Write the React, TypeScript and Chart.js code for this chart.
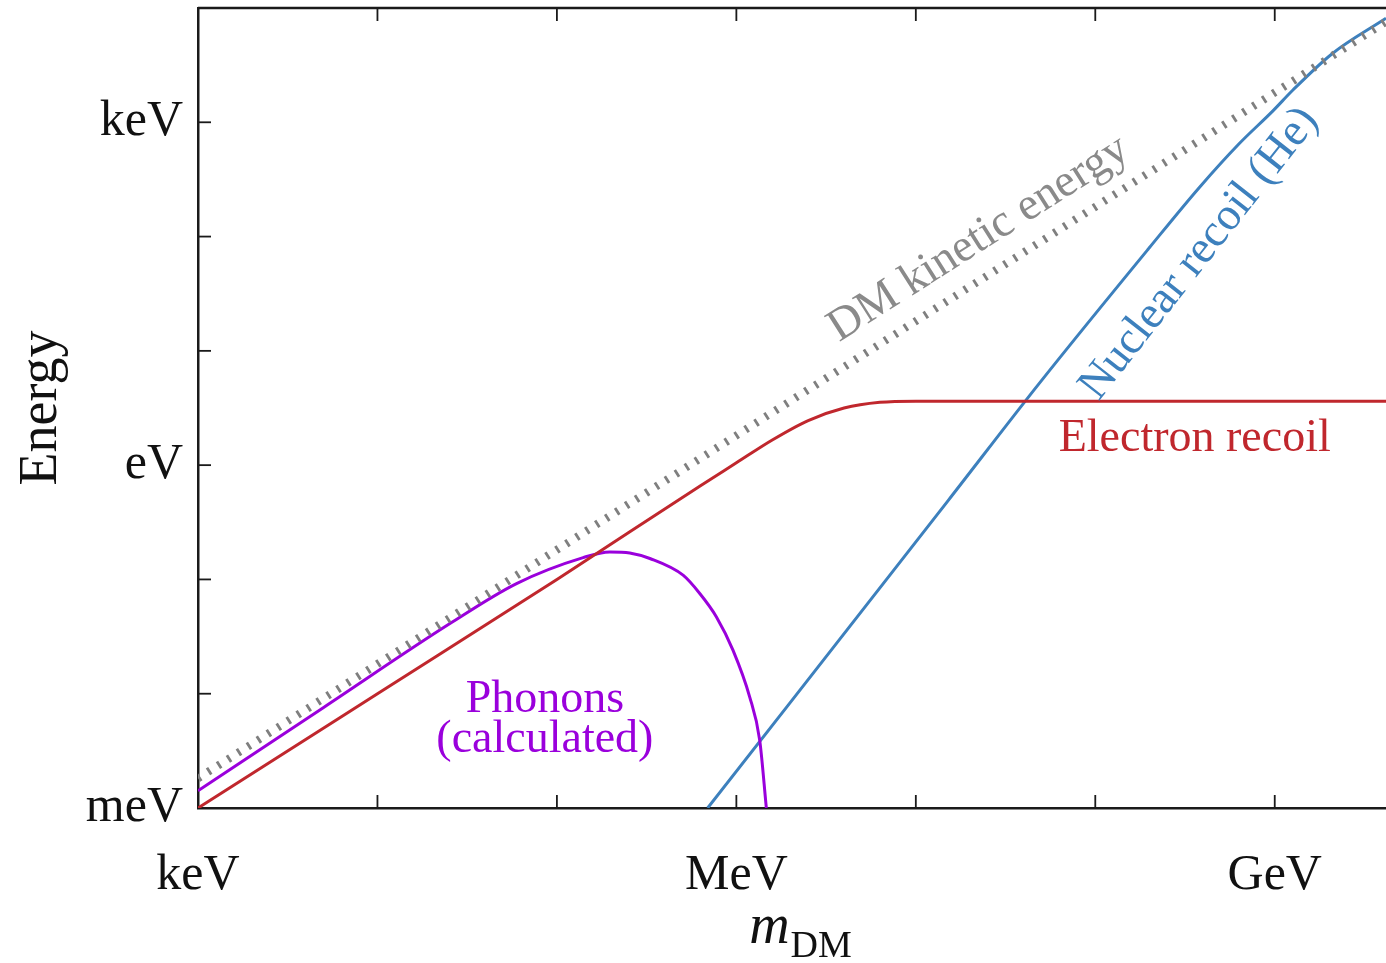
import React, { useEffect, useRef } from 'react';
import { Chart, registerables } from 'chart.js';

Chart.register(...registerables);

// Axes are in decades: x = log10(m_DM / keV), y = log10(E / meV)
const X_MIN = 0;
const X_MAX = 6.62;
const Y_MIN = 0;
const Y_MAX = 7;

const xTickValues = [0, 1, 2, 3, 4, 5, 6];
const xTickLabels = ['keV', '', '', 'MeV', '', '', 'GeV'];
const yTickValues = [0, 1, 2, 3, 4, 5, 6];
const yTickLabels = ['meV', '', '', 'eV', '', '', 'keV'];

const dmKineticX = [0, 6.62];
const dmKineticY = [0.26, 6.88];

const electronX = [0, 1, 2, 2.8, 3.0, 3.2, 3.4, 3.6, 3.8, 4.0, 6.62];
const electronY = [0, 1.0, 2.0, 2.82, 3.02, 3.22, 3.39, 3.5, 3.55, 3.56, 3.56];

const phononX = [0, 0.7, 1.404, 1.775, 2.146, 2.295, 2.406, 2.518, 2.703, 2.796, 2.889, 2.981, 3.074, 3.13, 3.167];
const phononY = [0.15, 0.88, 1.614, 1.964, 2.191, 2.241, 2.232, 2.183, 2.037, 1.877, 1.672, 1.381, 0.973, 0.594, 0];

const nuclearX = [2.84, 4.18, 4.69, 5.3, 5.58, 5.8, 5.99, 6.1, 6.32, 6.62];
const nuclearY = [0, 2.69, 3.72, 4.9, 5.43, 5.81, 6.1, 6.28, 6.6, 6.91];

const COLOR_DM = '#7f7f7f';
const COLOR_ELECTRON = '#c0272d';
const COLOR_PHONON = '#9a00dc';
const COLOR_NUCLEAR = '#3d80bd';

const FONT = '"Liberation Serif", "DejaVu Serif", serif';

// Label anchors in data units (x decades, y decades); slope sets the rotation
const labelTexts = ['DM kinetic energy', 'Nuclear recoil (He)', 'Electron recoil', 'Phonons', '(calculated)'];
const labelX = [4.35, 5.58, 5.554, 1.933, 1.933];
const labelY = [4.98, 4.85, 3.12, 0.84, 0.49];
const labelSlope = [1, 2, 0, 0, 0];
const labelBaseline = ['middle', 'middle', 'alphabetic', 'alphabetic', 'alphabetic'];
const labelColor = ['#8a8a8a', COLOR_NUCLEAR, COLOR_ELECTRON, COLOR_PHONON, COLOR_PHONON];

const pts = (xs: number[], ys: number[]) => xs.map((x, i) => ({ x, y: ys[i] }));

const decorPlugin = {
  id: 'decor',
  afterDatasetsDraw(chart: any) {
    const { ctx, chartArea } = chart;
    const xs = chart.scales.x;
    const ys = chart.scales.y;
    ctx.save();
    // top frame line
    ctx.strokeStyle = '#1a1a1a';
    ctx.lineWidth = 2.5;
    ctx.beginPath();
    ctx.moveTo(chartArea.left, chartArea.top);
    ctx.lineTo(chartArea.right, chartArea.top);
    ctx.stroke();
    // inward ticks
    const tl = 13;
    ctx.lineWidth = 1.8;
    for (const v of xTickValues) {
      if (v === X_MIN) continue;
      const px = xs.getPixelForValue(v);
      ctx.beginPath();
      ctx.moveTo(px, chartArea.bottom);
      ctx.lineTo(px, chartArea.bottom - tl);
      ctx.moveTo(px, chartArea.top);
      ctx.lineTo(px, chartArea.top + tl);
      ctx.stroke();
    }
    for (const v of yTickValues) {
      if (v === Y_MIN) continue;
      const py = ys.getPixelForValue(v);
      ctx.beginPath();
      ctx.moveTo(chartArea.left, py);
      ctx.lineTo(chartArea.left + tl, py);
      ctx.stroke();
    }
    // curve labels
    const pxPerX = xs.getPixelForValue(1) - xs.getPixelForValue(0);
    const pxPerY = ys.getPixelForValue(0) - ys.getPixelForValue(1);
    ctx.font = `46px ${FONT}`;
    ctx.textAlign = 'center';
    labelTexts.forEach((t, i) => {
      const px = xs.getPixelForValue(labelX[i]);
      const py = ys.getPixelForValue(labelY[i]);
      const ang = -Math.atan2(labelSlope[i] * pxPerY, pxPerX);
      ctx.save();
      ctx.translate(px, py);
      ctx.rotate(ang);
      ctx.fillStyle = labelColor[i];
      ctx.textBaseline = labelBaseline[i];
      ctx.fillText(t, 0, 0);
      ctx.restore();
    });
    // axis titles
    ctx.fillStyle = '#111';
    ctx.save();
    ctx.translate(42, (chartArea.top + chartArea.bottom) / 2);
    ctx.rotate(-Math.PI / 2);
    ctx.font = `54px ${FONT}`;
    ctx.textAlign = 'center';
    ctx.textBaseline = 'middle';
    ctx.fillText('Energy', 0, 0);
    ctx.restore();
    ctx.textAlign = 'left';
    ctx.textBaseline = 'alphabetic';
    ctx.font = `italic 56px ${FONT}`;
    const mW = ctx.measureText('m').width;
    ctx.font = `38px ${FONT}`;
    const sW = ctx.measureText('DM').width;
    const startX = (chartArea.left + chartArea.right) / 2 + 8 - (mW + sW) / 2;
    ctx.font = `italic 56px ${FONT}`;
    ctx.fillText('m', startX, 943);
    ctx.font = `38px ${FONT}`;
    ctx.fillText('DM', startX + mW + 1, 957);
    ctx.restore();
  },
};

export default function App() {
  const ref = useRef<HTMLCanvasElement | null>(null);
  useEffect(() => {
    if (!ref.current) return;
    const lineBase = { pointRadius: 0, fill: false, borderCapStyle: 'butt' as const };
    const chart = new Chart(ref.current, {
      type: 'line',
      data: {
        datasets: [
          {
            ...lineBase,
            label: 'DM kinetic energy',
            data: pts(dmKineticX, dmKineticY),
            borderColor: COLOR_DM,
            borderWidth: 8,
            borderDash: [2.8, 9],
          },
          {
            ...lineBase,
            label: 'Electron recoil',
            data: pts(electronX, electronY),
            borderColor: COLOR_ELECTRON,
            borderWidth: 3,
            cubicInterpolationMode: 'monotone',
          },
          {
            ...lineBase,
            label: 'Phonons (calculated)',
            data: pts(phononX, phononY),
            borderColor: COLOR_PHONON,
            borderWidth: 3,
            cubicInterpolationMode: 'monotone',
          },
          {
            ...lineBase,
            label: 'Nuclear recoil (He)',
            data: pts(nuclearX, nuclearY),
            borderColor: COLOR_NUCLEAR,
            borderWidth: 3,
            cubicInterpolationMode: 'monotone',
          },
        ],
      },
      options: {
        animation: false,
        responsive: false,
        maintainAspectRatio: false,
        layout: { padding: { left: 0, right: 0, top: 8, bottom: 0 } },
        plugins: { legend: { display: false }, tooltip: { enabled: false } },
        scales: {
          x: {
            type: 'linear',
            min: X_MIN,
            max: X_MAX,
            grid: { display: false, drawTicks: false },
            border: { display: true, width: 2.5, color: '#1a1a1a' },
            ticks: {
              autoSkip: false,
              maxRotation: 0,
              padding: 38,
              color: '#111',
              font: { family: FONT, size: 50 },
              callback: (v: any) => {
                const i = xTickValues.indexOf(Number(v));
                return i >= 0 ? xTickLabels[i] : '';
              },
            },
            afterBuildTicks: (s: any) => {
              s.ticks = xTickValues.map((v) => ({ value: v }));
            },
            afterFit: (s: any) => {
              s.height = 155;
              s.paddingLeft = 0;
              s.paddingRight = 0;
            },
          },
          y: {
            type: 'linear',
            min: Y_MIN,
            max: Y_MAX,
            grid: { display: false, drawTicks: false },
            border: { display: true, width: 2.5, color: '#1a1a1a' },
            ticks: {
              autoSkip: false,
              padding: 15,
              color: '#111',
              font: { family: FONT, size: 50 },
              callback: (v: any) => {
                const i = yTickValues.indexOf(Number(v));
                return i >= 0 ? yTickLabels[i] : '';
              },
            },
            afterBuildTicks: (s: any) => {
              s.ticks = yTickValues.map((v) => ({ value: v }));
            },
            afterFit: (s: any) => {
              s.width = 198;
              s.paddingTop = 0;
              s.paddingBottom = 0;
            },
          },
        },
      },
      plugins: [decorPlugin],
    });
    return () => chart.destroy();
  }, []);
  return (
    <div style={{ position: 'absolute', left: 0, top: 0, width: 1386, height: 963, background: '#fff', overflow: 'hidden' }}>
      <canvas ref={ref} width={1386} height={963} style={{ display: 'block' }} />
    </div>
  );
}
